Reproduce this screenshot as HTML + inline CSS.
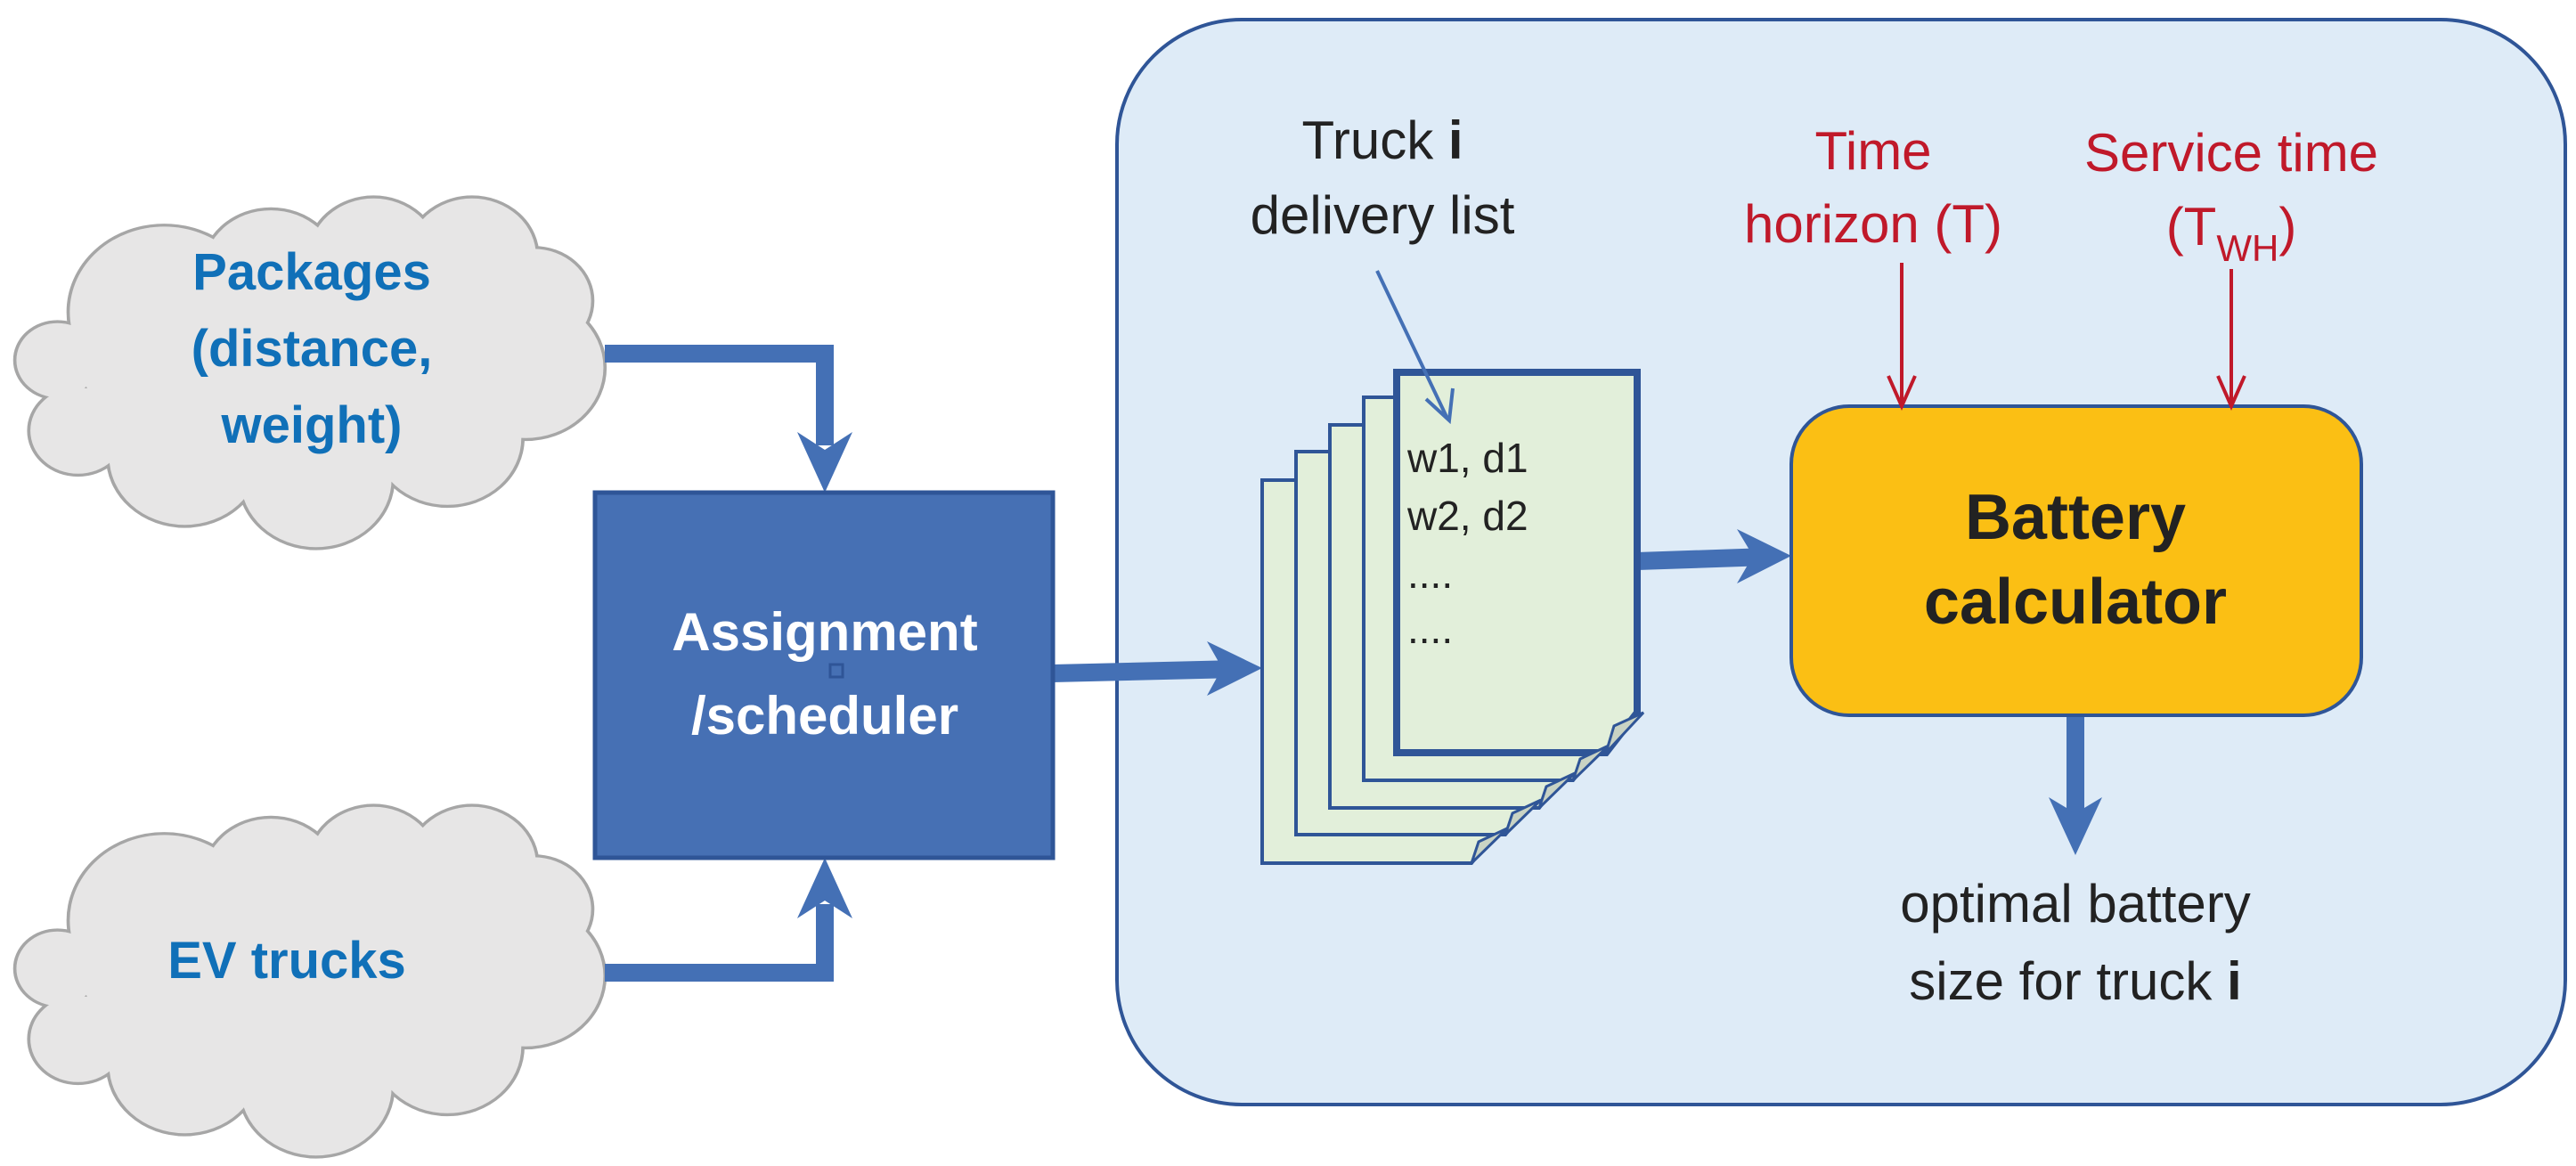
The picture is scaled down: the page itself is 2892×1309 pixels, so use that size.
<!DOCTYPE html>
<html><head><meta charset="utf-8"><style>
html,body{margin:0;padding:0;background:#fff;overflow:hidden;}
svg{display:block;}
text{font-family:"Liberation Sans",sans-serif;}
</style></head><body>
<svg width="2892" height="1309" viewBox="0 0 2892 1309" xmlns="http://www.w3.org/2000/svg">
<rect x="1254" y="22" width="1626" height="1218" rx="140" fill="#deebf7" stroke="#2f5597" stroke-width="4"/>

<defs>
 <g id="cl">
  <g fill="#e7e6e6" stroke="#a6a6a6" stroke-width="8">
   <circle cx="70" cy="465" r="50"/><circle cx="200" cy="400" r="115"/><circle cx="330" cy="345" r="82"/>
   <circle cx="455" cy="325" r="78"/><circle cx="575" cy="325" r="78"/><circle cx="650" cy="385" r="70"/>
   <circle cx="640" cy="475" r="95"/><circle cx="545" cy="570" r="90"/><circle cx="385" cy="625" r="92"/>
   <circle cx="225" cy="595" r="92"/><circle cx="95" cy="560" r="58"/>
  </g>
  <g fill="#e7e6e6">
   <circle cx="70" cy="465" r="50"/><circle cx="200" cy="400" r="115"/><circle cx="330" cy="345" r="82"/>
   <circle cx="455" cy="325" r="78"/><circle cx="575" cy="325" r="78"/><circle cx="650" cy="385" r="70"/>
   <circle cx="640" cy="475" r="95"/><circle cx="545" cy="570" r="90"/><circle cx="385" cy="625" r="92"/>
   <circle cx="225" cy="595" r="92"/><circle cx="95" cy="560" r="58"/>
   <ellipse cx="380" cy="470" rx="280" ry="160"/>
  </g>
 </g>
</defs>
<use href="#cl" transform="translate(0,17) scale(0.9217,0.833)"/>
<use href="#cl" transform="translate(0,700) scale(0.9217,0.833)"/>
<g fill="#1070b8" font-weight="bold" font-size="58" text-anchor="middle">
 <text x="350" y="325">Packages</text>
 <text x="350" y="411">(distance,</text>
 <text x="350" y="497">weight)</text>
 <text x="322" y="1098">EV trucks</text>
</g>

<g fill="none" stroke="#4470b5" stroke-width="20">
 <polyline points="679,397 926,397 926,500"/>
 <polyline points="679,1092 926,1092 926,1015"/>
 <line x1="1181" y1="756" x2="1390" y2="751"/>
 <line x1="1838" y1="630" x2="1985" y2="625"/>
 <line x1="2330" y1="803" x2="2330" y2="935"/>
</g>
<g fill="#4470b5">
 <polygon points="926,553 895,485 926,505 957,485"/>
 <polygon points="926,963 895,1031 926,1011 957,1031"/>
 <polygon points="1417,750 1355,720 1372,750 1355,781"/>
 <polygon points="2011,624 1950,594 1968,624 1950,655"/>
 <polygon points="2330,960 2300,895 2330,913 2360,895"/>
</g>

<rect x="668" y="553" width="514" height="410" fill="#4670b4" stroke="#2f5597" stroke-width="5"/>
<g fill="#fff" font-weight="bold" font-size="60" text-anchor="middle">
 <text x="926" y="730">Assignment</text>
 <text x="926" y="824">/scheduler</text>
</g>
<rect x="932" y="746" width="14" height="14" fill="none" stroke="#2f5597" stroke-width="3"/>

<g stroke="#2f5597" stroke-width="4" fill="#e2efda">
 <polygon points="1417,539 1687,539 1687,924 1652,969 1417,969"/>
 <polygon points="1455,507 1725,507 1725,892 1690,937 1455,937"/>
 <polygon points="1493,477 1763,477 1763,862 1728,907 1493,907"/>
 <polygon points="1531,446 1801,446 1801,831 1766,876 1531,876"/>
</g>
<polygon points="1568,418 1838,418 1838,800 1803,845 1568,845" fill="#e2efda" stroke="#2f5597" stroke-width="8"/>
<g fill="#c9d3c4" stroke="#2f5597" stroke-width="3">
 <polygon points="1652,969 1660,945 1692,930"/>
 <polygon points="1690,937 1698,913 1730,898"/>
 <polygon points="1728,907 1736,883 1768,868"/>
 <polygon points="1766,876 1774,852 1806,837"/>
 <polygon points="1803,845 1812,815 1845,800"/>
</g>
<g fill="#222" font-size="46">
 <text x="1580" y="530">w1, d1</text>
 <text x="1580" y="595">w2, d2</text>
 <text x="1580" y="660">....</text>
 <text x="1580" y="722">....</text>
</g>

<g fill="#222" font-size="60" text-anchor="middle">
 <text x="1552" y="178">Truck <tspan font-weight="bold">i</tspan></text>
 <text x="1552" y="262">delivery list</text>
</g>
<line x1="1546" y1="304" x2="1625" y2="470" stroke="#4470b5" stroke-width="4"/>
<polyline points="1601,448 1627,472 1631,436" fill="none" stroke="#4470b5" stroke-width="4"/>

<rect x="2011" y="456" width="640" height="347" rx="65" fill="#fbbf14" stroke="#2f5597" stroke-width="4"/>
<g fill="#222" font-weight="bold" font-size="72" text-anchor="middle">
 <text x="2330" y="605">Battery</text>
 <text x="2330" y="700">calculator</text>
</g>

<g fill="#c0192a" font-size="60" text-anchor="middle">
 <text x="2103" y="190">Time</text>
 <text x="2103" y="272">horizon (T)</text>
 <text x="2505" y="192">Service time</text>
 <text x="2505" y="275">(T<tspan font-size="42" dy="18">WH</tspan><tspan dy="-18">)</tspan></text>
</g>
<g stroke="#c0192a" stroke-width="4" fill="none">
 <line x1="2135" y1="295" x2="2135" y2="454"/>
 <polyline points="2120,422 2135,456 2150,422"/>
 <line x1="2505" y1="302" x2="2505" y2="454"/>
 <polyline points="2490,422 2505,456 2520,422"/>
</g>

<g fill="#222" font-size="60" text-anchor="middle">
 <text x="2330" y="1035">optimal battery</text>
 <text x="2330" y="1122">size for truck <tspan font-weight="bold">i</tspan></text>
</g>
</svg>
</body></html>
